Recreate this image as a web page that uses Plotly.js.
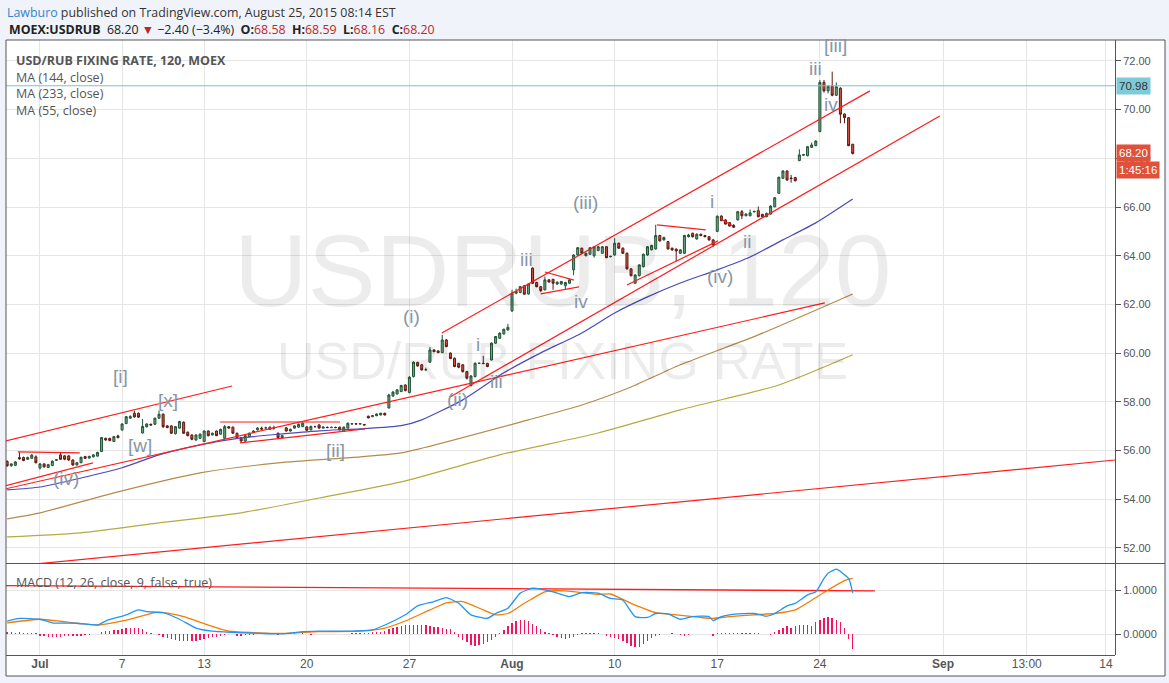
<!DOCTYPE html>
<html><head><meta charset="utf-8">
<script src="https://cdn.plot.ly/plotly-3.0.1.min.js"></script>
<style>html,body{margin:0;padding:0;background:#f0f3fa;}#chart{width:1169px;height:683px;}</style>
</head><body><div id="chart"></div>
<script>
// ---------- DATA ----------
const openP = [55.55,55.38,55.39,55.71,55.71,55.64,55.68,55.74,55.28,55.45,
55.30,55.38,55.60,55.82,55.78,55.78,55.61,55.41,55.50,55.75,
55.69,55.74,55.77,55.96,56.50,56.50,56.37,56.60,56.85,57.11,
57.33,57.53,57.53,56.72,56.97,57.08,57.08,57.33,57.49,57.01,
57.01,56.69,56.92,57.16,56.75,56.64,56.43,56.50,56.37,56.80,
56.64,56.80,56.67,56.50,56.98,56.96,56.71,56.53,56.39,56.57,
56.74,56.85,56.92,56.93,56.87,56.94,56.71,56.53,56.93,56.80,
56.92,56.96,56.98,56.97,56.85,56.98,57.05,56.92,56.95,56.94,
56.95,56.96,56.78,56.92,57.09,57.10,57.09,57.07,57.41,57.39,
57.43,57.46,57.53,57.75,58.24,58.32,58.42,58.69,58.38,59.04,
59.61,59.52,59.31,59.63,60.13,60.09,60.02,60.54,60.00,59.79,
59.58,59.52,59.24,58.67,59.04,59.58,59.58,59.58,59.72,60.41,
60.61,60.79,60.95,61.73,62.46,62.49,62.77,62.43,63.49,62.90,
62.73,62.60,63.01,63.03,62.84,62.84,62.77,62.87,63.42,64.03,
64.31,64.00,64.06,64.00,64.21,64.10,64.37,63.96,64.03,64.51,
64.31,64.10,63.46,62.87,63.18,63.55,64.03,64.24,64.28,64.83,
64.65,64.58,64.31,64.27,64.10,64.10,64.78,64.92,64.69,64.88,
64.83,64.78,64.65,65.00,65.63,65.47,65.36,65.24,65.47,65.81,
65.64,65.64,65.80,65.85,65.70,65.60,65.71,66.01,66.56,67.18,
67.48,67.19,67.21,67.91,68.13,68.11,68.45,68.52,69.10,71.12,
70.77,70.96,70.59,70.88,69.82,69.67,68.58];
const highP = [55.60,55.47,55.56,55.93,55.75,55.75,55.85,55.80,55.48,55.47,
55.45,55.60,55.65,55.90,55.80,55.80,55.64,55.53,55.75,55.78,
55.78,55.85,55.95,56.56,56.53,56.52,56.60,56.65,57.12,57.42,
57.45,57.64,57.56,57.30,57.12,57.10,57.35,57.64,57.52,57.04,
57.04,57.00,57.22,57.20,56.78,56.66,56.66,56.70,56.83,56.83,
56.74,56.82,56.90,57.05,57.00,56.98,56.73,56.55,56.63,56.74,
56.83,56.96,56.98,56.98,56.99,57.02,56.74,56.64,56.96,56.90,
57.04,57.10,57.15,57.00,57.02,57.02,57.08,56.99,56.99,56.98,
56.98,56.98,56.98,57.15,57.12,57.12,57.12,57.09,57.43,57.45,
57.52,57.55,57.55,58.33,58.45,58.52,58.70,58.72,59.05,59.66,
59.65,59.55,59.40,60.25,60.15,60.12,60.75,60.58,60.03,59.82,
59.60,59.55,59.27,59.10,59.62,59.62,59.89,59.60,60.44,60.70,
60.85,61.00,61.20,62.60,62.65,62.76,62.80,62.87,63.52,62.93,
62.75,63.15,63.03,63.05,62.95,62.97,62.93,63.04,64.06,64.36,
64.33,64.13,64.36,64.40,64.40,64.40,64.40,64.00,64.72,64.54,
64.34,64.13,63.48,63.24,63.65,64.09,64.40,64.45,65.27,64.86,
64.78,64.60,64.33,64.30,64.27,64.86,64.90,64.95,64.92,64.91,
64.86,64.80,64.68,65.66,65.66,65.50,65.38,65.30,65.84,65.88,
65.74,65.90,65.85,66.02,65.72,65.77,66.07,66.41,67.25,67.51,
67.51,67.32,67.24,68.37,68.18,68.51,68.65,68.74,71.22,71.22,
71.00,71.56,71.12,70.92,69.84,69.70,68.59];
const lowP = [55.33,55.33,55.37,55.62,55.56,55.62,55.66,55.47,55.22,55.30,
55.28,55.36,55.58,55.62,55.60,55.58,55.36,55.38,55.48,55.66,
55.67,55.72,55.75,55.94,56.41,56.38,56.35,56.50,56.80,57.08,
57.30,57.35,57.35,56.70,56.95,57.02,57.05,57.30,56.92,56.92,
56.68,56.66,56.90,56.68,56.58,56.42,56.40,56.48,56.34,56.58,
56.62,56.59,56.64,56.47,56.90,56.68,56.50,56.36,56.35,56.55,
56.72,56.82,56.86,56.90,56.85,56.86,56.50,56.50,56.78,56.78,
56.90,56.94,56.96,56.80,56.83,56.95,56.90,56.90,56.92,56.92,
56.92,56.83,56.76,56.90,57.07,57.07,57.07,57.03,57.32,57.37,
57.41,57.44,57.44,57.72,58.20,58.30,58.40,58.43,58.35,59.00,
59.45,59.28,59.28,59.60,60.04,60.00,60.00,60.24,59.75,59.42,
59.38,59.20,58.92,58.62,59.00,59.55,59.55,59.42,59.70,60.38,
60.58,60.76,60.93,61.70,62.42,62.46,62.40,62.40,62.84,62.70,
62.50,62.57,62.90,62.60,62.80,62.80,62.62,62.85,63.20,64.00,
64.08,63.98,64.04,63.92,64.19,64.08,63.90,63.93,64.00,64.28,
64.07,63.43,63.15,62.85,63.15,63.52,64.00,64.22,64.25,64.58,
64.62,64.25,64.20,63.76,64.08,64.08,64.75,64.75,64.66,64.80,
64.76,64.62,64.37,64.97,65.42,65.28,65.20,65.15,65.45,65.50,
65.62,65.62,65.78,65.58,65.58,65.58,65.69,65.99,66.54,67.15,
67.08,67.00,67.05,67.88,68.10,68.08,68.43,68.50,69.07,70.70,
70.67,70.55,70.56,69.44,69.44,68.50,68.16];
const closeP = [55.37,55.45,55.53,55.66,55.59,55.71,55.81,55.50,55.45,55.33,
55.42,55.56,55.62,55.64,55.64,55.61,55.41,55.50,55.72,55.68,
55.76,55.82,55.92,56.53,56.43,56.41,56.57,56.53,57.09,57.39,
57.39,57.38,57.37,56.99,57.09,57.05,57.33,57.49,56.98,56.94,
56.71,56.98,57.19,56.71,56.61,56.46,56.64,56.67,56.80,56.61,
56.71,56.61,56.87,56.98,56.92,56.71,56.53,56.39,56.61,56.71,
56.80,56.92,56.88,56.93,56.96,56.93,56.53,56.61,56.80,56.87,
57.01,57.08,57.12,56.83,56.99,56.98,56.92,56.96,56.94,56.95,
56.94,56.85,56.96,57.12,57.10,57.09,57.10,57.05,57.34,57.43,
57.50,57.53,57.46,58.28,58.40,58.49,58.67,58.46,59.01,59.63,
59.47,59.31,59.32,60.13,60.06,60.02,60.54,60.27,59.78,59.45,
59.42,59.24,58.97,59.06,59.58,59.58,59.57,59.45,60.41,60.68,
60.82,60.98,61.06,62.46,62.53,62.73,62.42,62.84,62.87,62.73,
62.57,63.01,62.92,62.87,62.91,62.94,62.90,63.01,64.03,64.33,
64.10,64.10,64.33,64.37,64.37,64.37,63.92,63.97,64.51,64.31,
64.10,63.46,63.18,63.21,63.62,64.06,64.37,64.42,64.83,64.61,
64.75,64.28,64.24,64.20,64.24,64.83,64.85,64.78,64.88,64.83,
64.78,64.65,64.45,65.62,65.44,65.30,65.22,65.17,65.81,65.64,
65.71,65.76,65.82,65.60,65.60,65.74,66.04,66.38,67.22,67.48,
67.11,67.17,67.08,68.14,68.15,68.48,68.55,68.71,71.12,70.77,
70.96,70.59,70.94,69.81,69.67,68.52,68.20];

// moving averages, sampled at bar indices
const ma55Bars = [0,8,18,28,37,47,57,67,76,86,96,101,111,121,130,140,148,156,164,173,181,189,197,206];
const ma55Vals = [54.38,54.50,54.87,55.29,55.82,56.23,56.52,56.68,56.81,56.89,57.02,57.26,58.08,59.19,60.01,60.83,61.65,62.31,62.88,63.42,63.95,64.65,65.35,66.33];
const ma144Bars = [0,8,27,47,66,86,96,127,140,152,164,183,206];
const ma144Vals = [53.19,53.44,54.30,55.08,55.49,55.74,55.90,57.26,57.87,58.61,59.52,60.75,62.43];
const ma233Bars = [0,18,37,57,76,96,120,144,164,188,206];
const ma233Vals = [52.45,52.62,53.03,53.44,54.05,54.71,55.82,56.72,57.67,58.69,59.93];

// MACD
const macdBars = [0,3,8,11,17,22,24,29,32,34,38,42,46,50,56,62,67,71,76,82,89,93,97,100,104,107,110,113,117,119,122,125,128,133,137,140,144,147,150,153,156,158,161,164,167,171,172,174,178,182,185,187,190,192,195,197,199,200,202,205,206];
const macdVals = [0.30,0.36,0.34,0.26,0.25,0.21,0.30,0.44,0.55,0.51,0.49,0.34,0.14,0.07,0.04,0.02,0.01,0.05,0.07,0.07,0.10,0.25,0.44,0.64,0.74,0.83,0.70,0.44,0.36,0.47,0.59,0.93,1.04,0.96,0.85,0.94,0.93,0.81,0.77,0.40,0.38,0.47,0.46,0.34,0.40,0.40,0.31,0.40,0.46,0.47,0.41,0.47,0.64,0.70,0.89,0.96,1.26,1.38,1.47,1.26,0.93];
const signalBars = [0,8,17,22,29,36,38,43,49,54,60,67,76,86,92,97,103,107,111,116,119,122,126,131,136,141,144,147,152,158,163,169,172,176,182,187,192,196,200,204,206];
const signalVals = [0.26,0.34,0.25,0.21,0.32,0.49,0.49,0.40,0.21,0.07,0.04,0.02,0.06,0.07,0.14,0.30,0.55,0.71,0.74,0.55,0.44,0.47,0.70,0.96,0.98,0.93,0.90,0.91,0.70,0.49,0.44,0.38,0.36,0.40,0.44,0.47,0.55,0.77,1.00,1.21,1.26];
const histVals = [0.05,0.05,0.04,0.05,0.04,0.03,0.02,0.02,-0.03,-0.04,
-0.05,-0.05,-0.06,-0.05,-0.04,-0.04,-0.03,-0.04,-0.03,-0.02,
-0.02,0,0,0.06,0.08,0.08,0.09,0.10,0.12,0.14,
0.15,0.15,0.14,0.12,0.05,0.02,0,-0.02,-0.05,-0.08,
-0.10,-0.12,-0.14,-0.15,-0.16,-0.16,-0.15,-0.13,-0.11,-0.09,
-0.07,-0.05,-0.03,-0.02,0,0,-0.03,-0.03,-0.02,-0.02,
-0.01,0.01,0,0.02,0.01,0,-0.01,0,0.01,0.02,
0.02,0.01,0.02,0.01,-0.01,0,0,0,0,0,
0,0,0,0.01,0.02,0.02,0.03,0.03,0.04,0.05,
0.06,0.06,0.08,0.11,0.14,0.17,0.19,0.20,0.21,0.22,
0.22,0.21,0.20,0.19,0.17,0.16,0.15,0.13,0.12,0.05,
-0.05,-0.12,-0.18,-0.23,-0.26,-0.25,-0.22,-0.18,-0.13,-0.07,
0.03,0.10,0.18,0.25,0.30,0.33,0.32,0.29,0.24,0.18,
0.12,0.06,0.02,-0.02,-0.05,-0.08,-0.10,-0.08,-0.05,-0.02,
0.02,0.02,0.03,0.03,0.02,0.01,-0.03,-0.06,-0.08,-0.10,
-0.14,-0.20,-0.26,-0.29,-0.28,-0.22,-0.15,-0.08,-0.04,-0.02,
0,0.01,0.02,0.01,-0.02,-0.03,-0.02,0,0.01,0.01,
0,0.01,-0.03,0.02,0.02,0.03,0.03,0.03,0.03,0.04,
0.03,0.03,0.03,0.02,0.01,0,-0.01,0.05,0.10,0.15,
0.18,0.15,0.18,0.20,0.21,0.21,0.19,0.28,0.33,0.36,
0.38,0.36,0.33,0.28,0.15,-0.10,-0.33];

// drawings (trend lines): [bar, bar] / [price, price]
const trendBars = [[-0.53,54.8],[-0.53,199.2],[-0.53,20.9],[2.6,17.7],[51.9,81.1],[56.7,87.2],[105.9,210.2],[107.9,227.2],[151,173.2],[131,138.1],[130,139.3],[158.3,170.2],[-0.53,269.9],[173.9,176.8]];
const trendPrices = [[56.39,58.65],[54.42,62.06],[54.55,55.49],[55.94,55.90],[57.17,57.17],[56.31,56.89],[60.83,70.77],[58.20,69.74],[62.80,64.61],[63.33,63.00],[62.43,62.72],[65.27,65.06],[51.22,55.61],[65.51,65.22]];
const macdTrendBars = [-0.53,211.4];
const macdTrendVals = [1.10,0.98];
const hLineLevel = 70.98;

// wave labels
const waveText = ['(iv)','[i]','[x]','[w]','[ii]','(i)','(ii)','i','iii','iii','iv','(iii)','i','ii','(iv)','iii','[iii]','iv'];
const waveBars = [14.3,27.5,39.2,32.4,79.9,98.6,109.8,114.7,119.3,126.6,139.8,140.8,171.7,180.2,173.7,197.0,201.7,200.7];
const wavePrices = [54.87,59.02,58.04,56.19,56.02,61.49,58.08,60.34,58.82,63.83,62.10,66.17,66.21,64.57,63.13,71.71,72.62,70.23];

// time axis
const tickBars = [8,28,48,73,98,123,148,173,198,228,248.4,267.7];
const tickLabels = ['<b>Jul</b>','7','13','20','27','<b>Aug</b>','10','17','24','<b>Sep</b>','13:00','14'];
const countdown = '1:45:16';

// ---------- CHART ----------
const W = 1169, H = 683;
const px = x => x / W, py = y => 1 - y / H;
const idx = closeP.map((_, i) => i);
const FA = 'Liberation Sans, Arial, sans-serif';
const FU = 'Open Sans, Liberation Sans, Arial, sans-serif';

const traces = [];
const maLine = (bx, v, c) => ({type:'scatter', mode:'lines', x:bx, y:v, xaxis:'x', yaxis:'y',
  line:{color:c, width:1.2, shape:'spline', smoothing:0.6}, hoverinfo:'skip'});
traces.push(maLine(ma233Bars, ma233Vals, '#b5ab3e'));
traces.push(maLine(ma144Bars, ma144Vals, '#b58b4c'));
traces.push(maLine(ma55Bars, ma55Vals, '#4a4ab8'));

traces.push({type:'candlestick', x:idx, open:openP, high:highP, low:lowP, close:closeP,
  xaxis:'x', yaxis:'y', hoverinfo:'skip', whiskerwidth:0,
  increasing:{line:{color:'#225437', width:1}, fillcolor:'#6ba583'},
  decreasing:{line:{color:'#5b1a13', width:1}, fillcolor:'#d75442'}});

const tx = [], ty = [];
trendBars.forEach((b, k) => { tx.push(b[0], b[1], null); ty.push(trendPrices[k][0], trendPrices[k][1], null); });
traces.push({type:'scatter', mode:'lines', x:tx, y:ty, xaxis:'x', yaxis:'y',
  line:{color:'#ff1c1c', width:1.2}, hoverinfo:'skip', connectgaps:false});

traces.push({type:'bar', x:idx, y:histVals, xaxis:'x', yaxis:'y2', width:0.34,
  marker:{color:'#f5135f', line:{width:0}}, hoverinfo:'skip'});
traces.push({type:'scatter', mode:'lines', x:macdTrendBars, y:macdTrendVals, xaxis:'x', yaxis:'y2',
  line:{color:'#ff1c1c', width:1.4}, hoverinfo:'skip'});
traces.push({type:'scatter', mode:'lines', x:signalBars, y:signalVals, xaxis:'x', yaxis:'y2',
  line:{color:'#f57c00', width:1.3, shape:'spline', smoothing:0.5}, hoverinfo:'skip'});
traces.push({type:'scatter', mode:'lines', x:macdBars, y:macdVals, xaxis:'x', yaxis:'y2',
  line:{color:'#2196f3', width:1.3, shape:'spline', smoothing:0.5}, hoverinfo:'skip'});

const ann = [];
const txt = (x, y, t, o) => Object.assign({xref:'paper', yref:'paper', x:px(x), y:py(y), text:t,
  showarrow:false, xanchor:'left', yanchor:'middle', font:{family:FU, size:12.5, color:'#555'}}, o || {});

// header
ann.push(txt(5, 12, '<span style="color:#2f86d4">Lawburo</span> published on TradingView.com, August 25, 2015 08:14 EST',
  {font:{family:FU, size:12.4, color:'#333'}}));
const red = s => '<span style="color:#c0271d">' + s + '</span>';
const last = closeP[closeP.length - 1];
ann.push(txt(7, 29, '<b>MOEX:USDRUB</b>\u00a0\u00a0' + last.toFixed(2) + ' ' + red('▼') + ' −2.40 (−3.4%)\u00a0\u00a0<b>O:</b>' + red(openP[openP.length-1].toFixed(2)) +
  '\u00a0\u00a0<b>H:</b>' + red(highP[highP.length-1].toFixed(2)) + '\u00a0\u00a0<b>L:</b>' + red(lowP[lowP.length-1].toFixed(2)) +
  '\u00a0\u00a0<b>C:</b>' + red(last.toFixed(2)), {font:{family:FU, size:12.4, color:'#222'}}));

// watermark
ann.push(txt(563, 271, 'USDRUB, 120', {xanchor:'center', font:{family:FA, size:102, color:'rgba(0,0,0,0.075)'}}));
ann.push(txt(562, 361, 'USD/RUB FIXING RATE', {xanchor:'center', font:{family:FA, size:52, color:'rgba(0,0,0,0.075)'}}));

// legends
ann.push(txt(14, 60, '<b>USD/RUB FIXING RATE, 120, MOEX</b>', {font:{family:FU, size:12.5, color:'#555'}}));
ann.push(txt(14, 77, 'MA (144, close)'));
ann.push(txt(14, 94, 'MA (233, close)'));
ann.push(txt(14, 111, 'MA (55, close)'));
ann.push(txt(14, 582, 'MACD (12, 26, close, 9, false, true)'));

// wave labels
waveText.forEach((t, k) => ann.push({xref:'x', yref:'y', x:waveBars[k], y:wavePrices[k], text:t, showarrow:false,
  xanchor:'center', yanchor:'middle', font:{family:FA, size:19, color:'#8696a8'}}));

// price tags
ann.push({xref:'paper', yref:'y', x:px(1116), y:hLineLevel, text:hLineLevel.toFixed(2), showarrow:false, xanchor:'left', yanchor:'middle',
  bgcolor:'#7fcad8', borderpad:2, font:{family:FA, size:11.5, color:'#333'}});
ann.push({xref:'paper', yref:'y', x:px(1116), y:last, text:last.toFixed(2), showarrow:false, xanchor:'left', yanchor:'middle',
  bgcolor:'#e0513c', borderpad:2, font:{family:FA, size:11.5, color:'#fff'}});
ann.push({xref:'paper', yref:'y', x:px(1116), y:last, yshift:-17, text:countdown, showarrow:false, xanchor:'left', yanchor:'middle',
  bgcolor:'#e0513c', borderpad:2, font:{family:FA, size:11.5, color:'#fff'}});

const shapes = [
  {type:'rect', xref:'paper', yref:'paper', x0:px(6), x1:px(1165), y0:py(676), y1:py(40), fillcolor:'#fff', line:{width:0}, layer:'below'},
  {type:'line', xref:'paper', yref:'y', x0:px(6), x1:px(1115), y0:hLineLevel, y1:hLineLevel, line:{color:'#74c3d3', width:1}},
  {type:'line', xref:'paper', yref:'paper', x0:px(6), x1:px(1165), y0:py(563.5), y1:py(563.5), line:{color:'#555', width:1}},
  {type:'line', xref:'paper', yref:'paper', x0:px(6), x1:px(1115), y0:py(655.5), y1:py(655.5), line:{color:'#555', width:1}},
  {type:'rect', xref:'paper', yref:'paper', x0:px(6), x1:px(1165), y0:py(676), y1:py(40), fillcolor:'rgba(0,0,0,0)', line:{color:'#555', width:1}, layer:'above'}
];

const layout = {
  width:W, height:H, margin:{l:0, r:0, t:0, b:0}, paper_bgcolor:'#f0f3fa', plot_bgcolor:'#fff', showlegend:false,
  xaxis:{domain:[px(6), px(1115)], range:[-0.28, 269.9], anchor:'y2', tickmode:'array', tickvals:tickBars, ticktext:tickLabels,
    showgrid:true, gridcolor:'#e6e6e6', gridwidth:1, zeroline:false, ticks:'', showline:false,
    tickfont:{family:FA, size:12, color:'#555'}, rangeslider:{visible:false}, fixedrange:true},
  yaxis:{domain:[py(563), py(40)], range:[51.38, 72.86], side:'right', anchor:'x', tick0:0, dtick:2, tickformat:'.2f',
    ticks:'outside', ticklen:5, tickcolor:'#555', showline:true, linecolor:'#555', gridcolor:'#e6e6e6', zeroline:false,
    tickfont:{family:FA, size:11, color:'#555'}, fixedrange:true},
  yaxis2:{domain:[py(655), py(564)], range:[-0.467, 1.587], side:'right', anchor:'x', tickmode:'array', tickvals:[0, 1], tickformat:'.4f',
    ticks:'outside', ticklen:5, tickcolor:'#555', showline:true, linecolor:'#555', gridcolor:'#e6e6e6', zeroline:false,
    tickfont:{family:FA, size:11, color:'#555'}, fixedrange:true},
  annotations:ann, shapes:shapes, bargap:0
};
Plotly.newPlot('chart', traces, layout, {staticPlot:true, displayModeBar:false});
</script></body></html>
